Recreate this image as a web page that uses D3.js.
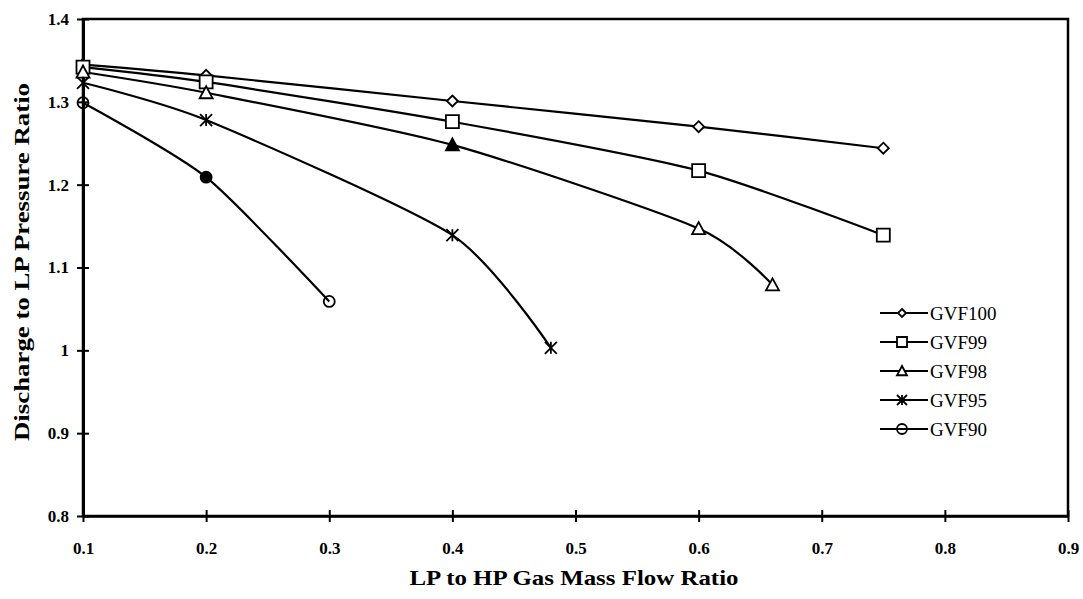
<!DOCTYPE html>
<html>
<head>
<meta charset="utf-8">
<script src="https://cdn.jsdelivr.net/npm/d3@7"></script>
<style>
  html, body { margin: 0; padding: 0; background: #fff; }
  svg { display: block; }
  text { font-family: "Liberation Serif", "Times New Roman", serif; fill: #000; }
</style>
</head>
<body>
<svg id="chart" width="1083" height="599"></svg>
<script>
// Pressure ratio versus LP/HP gas mass flow ratio, one series per gas volume fraction
const seriesNames = ["GVF100", "GVF99", "GVF98", "GVF95", "GVF90"];
const markerTypes = ["diamond", "square", "triangle", "star", "circle"];

const gvf100X = [0.1, 0.2, 0.4, 0.6, 0.75];
const gvf100Y = [1.345, 1.332, 1.301, 1.270, 1.244];

const gvf99X = [0.1, 0.2, 0.4, 0.6, 0.75];
const gvf99Y = [1.342, 1.324, 1.276, 1.217, 1.139];

const gvf98X = [0.1, 0.2, 0.4, 0.6, 0.66];
const gvf98Y = [1.336, 1.311, 1.248, 1.147, 1.079];

const gvf95X = [0.1, 0.2, 0.4, 0.48];
const gvf95Y = [1.323, 1.278, 1.139, 1.003];

const gvf90X = [0.1, 0.2, 0.3];
const gvf90Y = [1.299, 1.209, 1.059];

// Points printed with a solid marker
const solidPoints = [{ series: "GVF98", x: 0.4 }, { series: "GVF90", x: 0.2 }];

const xTicks = [0.1, 0.2, 0.3, 0.4, 0.5, 0.6, 0.7, 0.8, 0.9];
const yTicks = [0.8, 0.9, 1, 1.1, 1.2, 1.3, 1.4];
const xTitle = "LP to HP Gas Mass Flow Ratio";
const yTitle = "Discharge to LP Pressure Ratio";

const seriesX = [gvf100X, gvf99X, gvf98X, gvf95X, gvf90X];
const seriesY = [gvf100Y, gvf99Y, gvf98Y, gvf95Y, gvf90Y];
const series = seriesNames.map((name, i) => ({
  name,
  marker: markerTypes[i],
  points: seriesX[i].map((x, j) => ({ x, y: seriesY[i][j] }))
}));

const svg = d3.select("#chart");
const plot = { left: 83, right: 1068, top: 19, bottom: 516 };

const x = d3.scaleLinear().domain([0.1, 0.9]).range([plot.left, plot.right]);
const y = d3.scaleLinear().domain([0.8, 1.4]).range([plot.bottom, plot.top]);

// Marker shapes
function markerPath(type, s) {
  const h = s / 2;
  switch (type) {
    case "diamond": return `M0,${-h}L${h},0L0,${h}L${-h},0Z`;
    case "square": return `M${-h},${-h}H${h}V${h}H${-h}Z`;
    case "triangle": return `M0,${-h}L${h},${h * 0.85}L${-h},${h * 0.85}Z`;
    case "star": return `M${-h},${-h}L${h},${h}M${-h},${h}L${h},${-h}M0,${-h}V${h}`;
    default: return null;
  }
}
const markerSize = { diamond: 11, square: 13, triangle: 13, star: 12, circle: 11 };

function drawMarker(g, type, size, solid) {
  if (type === "circle") {
    g.append("circle").attr("r", size / 2)
      .attr("fill", solid ? "#000" : "none")
      .attr("stroke", "#000").attr("stroke-width", 1.8);
  } else {
    g.append("path").attr("d", markerPath(type, size))
      .attr("fill", type === "star" ? "none" : (solid ? "#000" : "#fff"))
      .attr("stroke", "#000").attr("stroke-width", 1.8)
      .attr("stroke-linejoin", "miter");
  }
}

// Frame
svg.append("rect")
  .attr("x", plot.left).attr("y", plot.top)
  .attr("width", plot.right - plot.left).attr("height", plot.bottom - plot.top)
  .attr("fill", "none").attr("stroke", "#000").attr("stroke-width", 2.5);

// X axis
const xAxis = svg.append("g")
  .attr("transform", `translate(0,${plot.bottom})`)
  .call(d3.axisBottom(x).tickValues(xTicks).tickFormat(d3.format(".1f"))
    .tickSizeInner(6).tickSizeOuter(0).tickPadding(20));
xAxis.select(".domain").attr("stroke", "#000").attr("stroke-width", 2.5);
xAxis.selectAll(".tick line").attr("y1", -6).attr("y2", 6)
  .attr("stroke", "#000").attr("stroke-width", 2);
xAxis.selectAll(".tick text")
  .attr("font-family", "Liberation Serif").attr("font-size", 17).attr("font-weight", "bold");

// Y axis
const yAxis = svg.append("g")
  .attr("transform", `translate(${plot.left},0)`)
  .call(d3.axisLeft(y).tickValues(yTicks).tickFormat(d => String(d))
    .tickSizeInner(6).tickSizeOuter(0).tickPadding(8));
yAxis.select(".domain").attr("stroke", "#000").attr("stroke-width", 3);
yAxis.selectAll(".tick line").attr("x1", -6).attr("x2", 6)
  .attr("stroke", "#000").attr("stroke-width", 2);
yAxis.selectAll(".tick text")
  .attr("font-family", "Liberation Serif").attr("font-size", 17).attr("font-weight", "bold");

// Axis titles
svg.append("text")
  .attr("x", 574).attr("y", 585)
  .attr("text-anchor", "middle")
  .attr("font-size", 22).attr("font-weight", "bold")
  .attr("textLength", 329).attr("lengthAdjust", "spacingAndGlyphs")
  .text(xTitle);

svg.append("text")
  .attr("transform", "translate(29,262) rotate(-90)")
  .attr("text-anchor", "middle")
  .attr("font-size", 21).attr("font-weight", "bold")
  .attr("textLength", 358).attr("lengthAdjust", "spacingAndGlyphs")
  .text(yTitle);

// Series lines (smoothed) and markers
const line = d3.line()
  .x(d => x(d.x)).y(d => y(d.y))
  .curve(d3.curveCardinal.tension(0.3));

const seriesG = svg.append("g");
series.forEach(s => {
  seriesG.append("path")
    .datum(s.points)
    .attr("d", line)
    .attr("fill", "none").attr("stroke", "#000").attr("stroke-width", 2.2);
});
series.forEach(s => {
  s.points.forEach(p => {
    const solid = solidPoints.some(q => q.series === s.name && q.x === p.x);
    const g = seriesG.append("g").attr("transform", `translate(${x(p.x)},${y(p.y)})`);
    drawMarker(g, s.marker, markerSize[s.marker], solid);
  });
});

// Legend
const legend = svg.append("g").attr("transform", "translate(880,313)");
series.forEach((s, i) => {
  const row = legend.append("g").attr("transform", `translate(0,${i * 29})`);
  row.append("line").attr("x1", 0).attr("x2", 48).attr("y1", 0).attr("y2", 0)
    .attr("stroke", "#000").attr("stroke-width", 2.2);
  const m = row.append("g").attr("transform", "translate(22,0)");
  drawMarker(m, s.marker, s.marker === "diamond" ? 8 : 10, false);
  row.append("text")
    .attr("x", 50).attr("y", 7)
    .attr("font-size", 19)
    .text(s.name);
});
</script>
</body>
</html>
